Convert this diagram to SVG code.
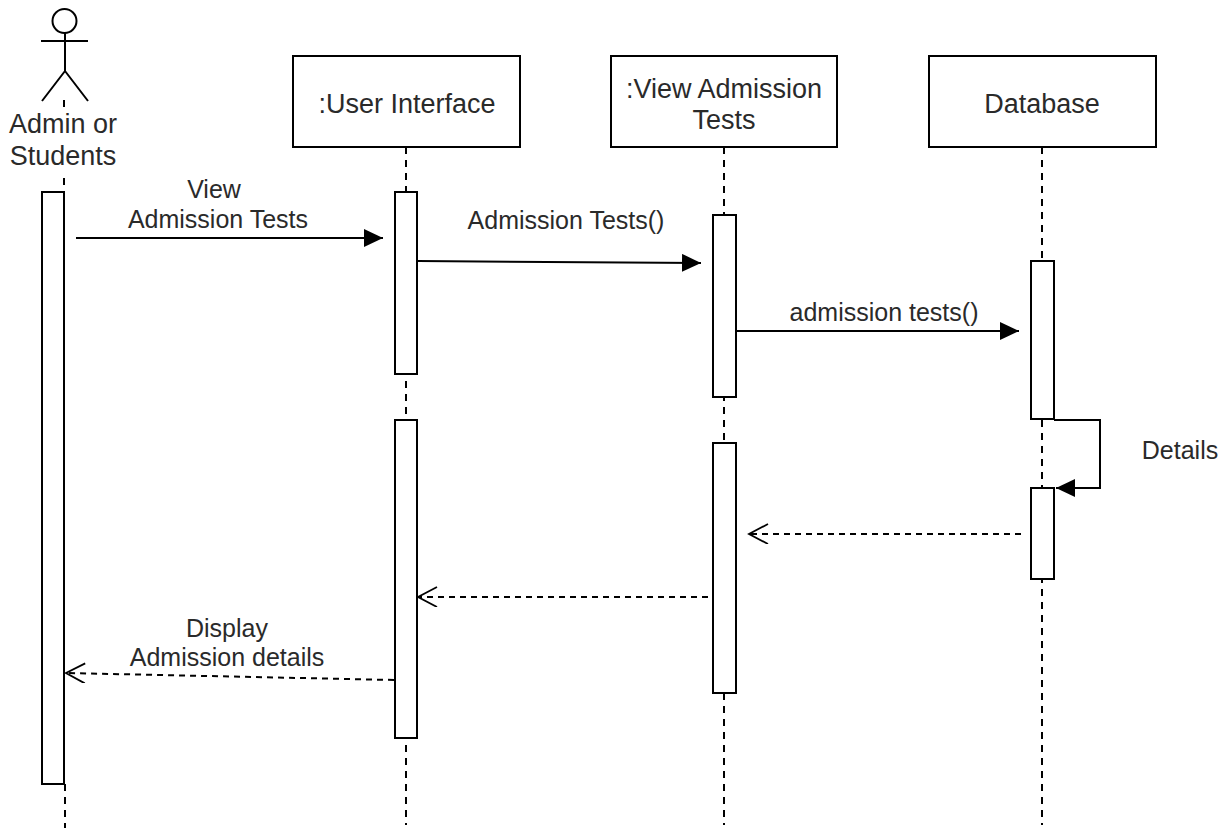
<svg xmlns="http://www.w3.org/2000/svg" width="1227" height="828" viewBox="0 0 1227 828">
<defs>
<marker id="solid" markerUnits="userSpaceOnUse" markerWidth="22" markerHeight="22" refX="19" refY="9" orient="auto"><path d="M0 0L19 9L0 18Z" fill="#000"/></marker>
<marker id="open" markerUnits="userSpaceOnUse" markerWidth="24" markerHeight="24" refX="20" refY="10" orient="auto"><path d="M1 0L20 10L1 20" fill="none" stroke="#000" stroke-width="1.8"/></marker>
</defs>
<style>
text{font-family:"Liberation Sans",Arial,sans-serif;font-size:27px;fill:#2a2a2a;text-anchor:middle}
.m{font-size:25px}
.box,.act{fill:#fff;stroke:#000;stroke-width:2}
.life{fill:none;stroke:#000;stroke-width:2;stroke-dasharray:7 6}
.msg{fill:none;stroke:#000;stroke-width:2}
.ret{fill:none;stroke:#000;stroke-width:2;stroke-dasharray:6 5}
</style>
<rect width="1227" height="828" fill="#fff"/>
<g id="lifelines">
<path class="life" d="M64 100V192M65 784V828M406 147V825M724 147V825M1042 147V825"/>
</g>
<g id="actor">
<circle cx="64.500" cy="21" r="12" fill="#fff" stroke="#000" stroke-width="2"/>
<path d="M65 33V71M41 41H88M65 71L42 101M65 71L88 101" fill="none" stroke="#000" stroke-width="2"/>
<rect x="5" y="108" width="120" height="65" fill="#fff"/>
<text x="63" y="133">Admin or</text><text x="63" y="165">Students</text>
</g>
<g id="ui"><rect class="box" x="293" y="56" width="227" height="91"/><text x="407" y="113">:User Interface</text></g>
<g id="view"><rect class="box" x="611" y="56" width="226" height="91"/><text x="724" y="98">:View Admission</text><text x="724" y="129">Tests</text></g>
<g id="db"><rect class="box" x="929" y="56" width="227" height="91"/><text x="1042" y="113">Database</text></g>
<g id="activations">
<rect class="act" x="42" y="192" width="22" height="592"/>
<rect class="act" x="395" y="192" width="22" height="182"/>
<rect class="act" x="395" y="420" width="22" height="318"/>
<rect class="act" x="713" y="215" width="23" height="182"/>
<rect class="act" x="713" y="443" width="23" height="250"/>
<rect class="act" x="1031" y="261" width="23" height="158"/>
<rect class="act" x="1031" y="488" width="23" height="91"/>
</g>
<g id="connectors">
<path class="msg" marker-end="url(#solid)" d="M76 238H383"/>
<path class="msg" marker-end="url(#solid)" d="M418 261L701 263"/>
<path class="msg" marker-end="url(#solid)" d="M736 331H1019"/>
<path class="msg" marker-end="url(#solid)" d="M1054 420H1100V488H1056"/>
<path class="ret" marker-end="url(#open)" d="M1021 534H749"/>
<path class="ret" marker-end="url(#open)" d="M708 597H418"/>
<path class="ret" marker-end="url(#open)" d="M394 680L66 673"/>
</g>
<g id="labels">
<text class="m" x="214" y="198">View</text><text class="m" x="218" y="228">Admission Tests</text>
<text class="m" x="566" y="229">Admission Tests()</text>
<text class="m" x="884" y="321">admission tests()</text>
<text class="m" x="1180" y="459">Details</text>
<text class="m" x="227" y="637">Display</text><text class="m" x="227" y="666">Admission details</text>
</g>
</svg>
